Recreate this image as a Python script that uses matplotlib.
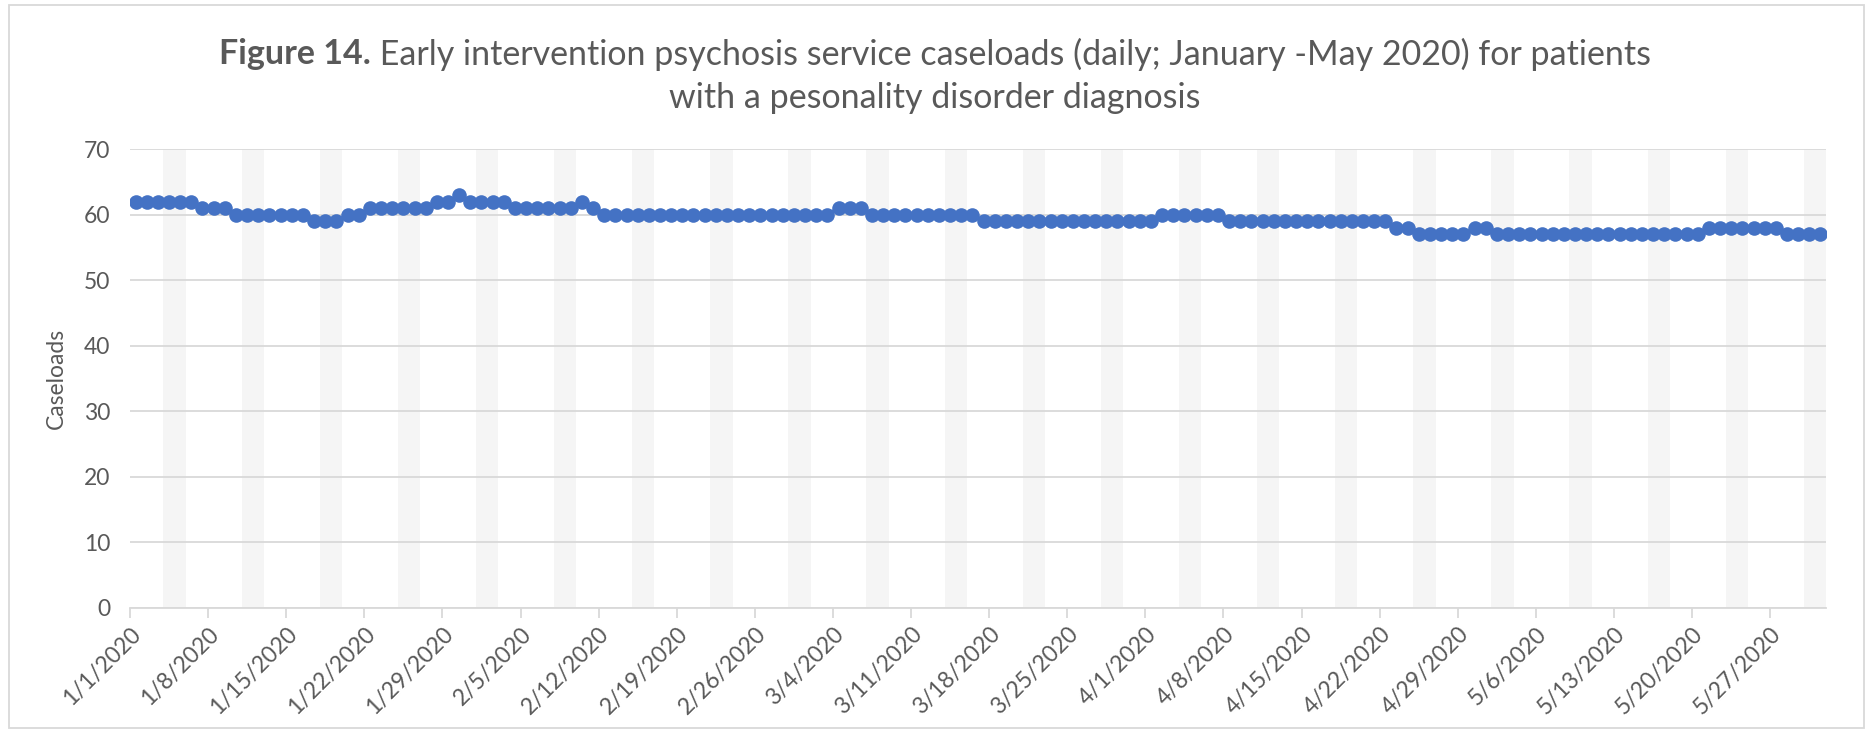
import pandas as pd
import matplotlib.pyplot as plt
import numpy as np
from matplotlib.patches import Rectangle

# daily caseloads
jan = [62, 62, 62, 62, 62, 62, 61, 61, 61, 60, 60, 60, 60, 60, 60, 60,
       59, 59, 59, 60, 60, 61, 61, 61, 61, 61, 61, 62, 62, 63, 62]
feb = [62, 62, 62, 61, 61, 61, 61, 61, 61, 62, 61, 60, 60, 60, 60, 60,
       60, 60, 60, 60, 60, 60, 60, 60, 60, 60, 60, 60, 60]
mar = [60, 60, 60, 61, 61, 61, 60, 60, 60, 60, 60, 60, 60, 60, 60, 60,
       59, 59, 59, 59, 59, 59, 59, 59, 59, 59, 59, 59, 59, 59, 59]
apr = [59, 60, 60, 60, 60, 60, 60, 59, 59, 59, 59, 59, 59, 59, 59, 59,
       59, 59, 59, 59, 59, 59, 58, 58, 57, 57, 57, 57, 57, 58]
may = [58, 57, 57, 57, 57, 57, 57, 57, 57, 57, 57, 57, 57, 57, 57, 57,
       57, 57, 57, 57, 58, 58, 58, 58, 58, 58, 58, 57, 57, 57, 57]

caseloads = jan + feb + mar + apr + may
dates = pd.date_range("2020-01-01", periods=len(caseloads), freq="D")

title_bold = "Figure 14."
title_rest = " Early intervention psychosis service caseloads (daily; January -May 2020) for patients"
title_line2 = "with a pesonality disorder diagnosis"
y_label = "Caseloads"

FONT = ["Lato", "DejaVu Sans"]
TXT = "#595959"
BLUE = "#4472C4"
GRID = "#D9D9D9"
BAND = "#F5F5F5"

plt.rcParams["font.family"] = FONT

fig = plt.figure(figsize=(18.7, 7.33), dpi=100)
ax = fig.add_axes([0.0695, 0.1708, 0.9070, 0.6255])

# x: one slot per day, points in the middle of each slot
pos = np.arange(len(caseloads))

# weekend bands
for i, d in enumerate(dates):
    if d.dayofweek == 5:
        ax.axvspan(i, i + 2, color=BAND, lw=0, zorder=0)

ax.plot(pos + 0.5, caseloads, color=BLUE, lw=2.6, marker="o", ms=10.5,
        markeredgewidth=0, zorder=3)

ax.set_xlim(0, len(caseloads))
ax.set_ylim(0, 70)
ax.set_yticks(range(0, 71, 10))
ax.yaxis.grid(True, color=GRID, lw=1.3, zorder=1)
ax.set_axisbelow(True)

tick_idx = pos[::7]
ax.set_xticks(tick_idx)
ax.set_xticklabels([f"{d.month}/{d.day}/{d.year}" for d in dates[::7]],
                   rotation=45, ha="right", rotation_mode="anchor")

for s in ["top", "right", "left"]:
    ax.spines[s].set_visible(False)
ax.spines["bottom"].set_color(GRID)
ax.spines["bottom"].set_linewidth(1.3)
ax.tick_params(axis="y", length=0, labelsize=16.5, labelcolor=TXT, pad=14)
ax.tick_params(axis="x", length=7, width=1.3, color=GRID, labelsize=16.5,
               labelcolor=TXT, pad=4)

ax.set_ylabel(y_label, fontsize=16.5, color=TXT, labelpad=12)

# title: bold lead then normal text, centred as one line
t1 = fig.text(0, 0.926, title_bold, fontsize=24.5, fontweight="bold", color=TXT,
              va="center")
t2 = fig.text(0, 0.926, title_rest, fontsize=24.5, color=TXT, va="center")
fig.canvas.draw()
r = fig.canvas.get_renderer()
w1 = t1.get_window_extent(r).width / fig.bbox.width
w2 = t2.get_window_extent(r).width / fig.bbox.width
x0 = 0.5 - (w1 + w2) / 2
t1.set_x(x0)
t2.set_x(x0 + w1)
fig.text(0.5, 0.866, title_line2, fontsize=24.5, color=TXT, ha="center", va="center")

# chart border
fig.patches.append(Rectangle((0.005, 0.007), 0.992, 0.986, transform=fig.transFigure,
                             fill=False, edgecolor=GRID, lw=1.3))

fig.savefig("out.png", dpi=100)
